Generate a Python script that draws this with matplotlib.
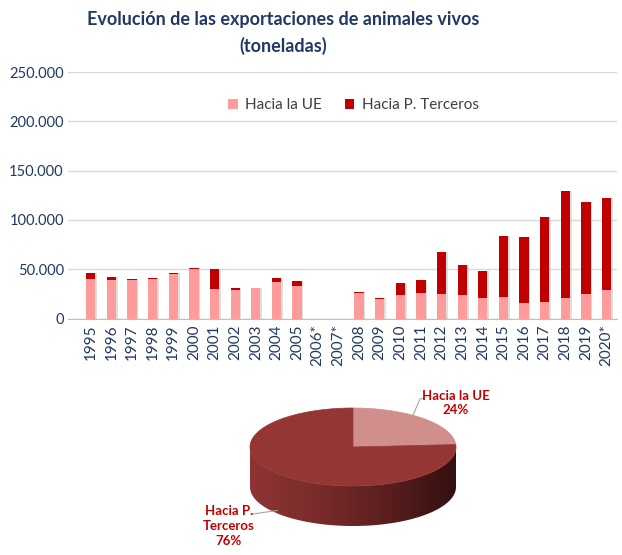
import numpy as np
import matplotlib
matplotlib.use("Agg")
import matplotlib.pyplot as plt
from matplotlib.patches import Polygon
from matplotlib.colors import LinearSegmentedColormap
from matplotlib.ticker import FuncFormatter

plt.rcParams["font.family"] = ["Lato", "DejaVu Sans"]

years = ["1995", "1996", "1997", "1998", "1999", "2000", "2001", "2002", "2003",
         "2004", "2005", "2006*", "2007*", "2008", "2009", "2010", "2011", "2012",
         "2013", "2014", "2015", "2016", "2017", "2018", "2019", "2020*"]
# toneladas (2006* y 2007* sin datos)
hacia_ue = [39600, 39300, 39000, 40000, 44700, 50200, 30400, 29100, 30800,
            36900, 33200, 0, 0, 25600, 19900, 24300, 26300, 25000,
            23500, 20400, 21400, 15300, 16800, 20400, 25000, 28400]
total = [45700, 41600, 40300, 41000, 46400, 51200, 49800, 30800, 31400,
         41000, 37600, 0, 0, 26600, 20900, 36500, 38600, 67300,
         54400, 48600, 83200, 82400, 102900, 129100, 117900, 122200]
hacia_terceros = [t - u for t, u in zip(total, hacia_ue)]

pie_labels = ["Hacia la UE", "Hacia P.\nTerceros"]
pie_values = [24, 76]

navy = "#1F3864"
c_ue = "#FF9B9B"
c_ter = "#C00000"

fig = plt.figure(figsize=(6.22, 5.55), dpi=100)

# --- barras ---
ax = fig.add_axes([68 / 622, 1 - 318.5 / 555, 549 / 622, 246.5 / 555])
x = np.arange(len(years))
w = 0.45
ax.bar(x + 0.08, total, width=w, color="#C8C8C8", alpha=0.6, zorder=1)
ax.bar(x, hacia_ue, width=w, color=c_ue, label="Hacia la UE", zorder=2)
ax.bar(x, hacia_terceros, width=w, bottom=hacia_ue, color=c_ter,
       label="Hacia P. Terceros", zorder=2)

ax.set_ylim(0, 250000)
ax.set_xlim(-1.1, 25.5)
ax.set_yticks(range(0, 250001, 50000))
ax.yaxis.set_major_formatter(FuncFormatter(lambda v, p: f"{int(v):,}".replace(",", ".")))
ax.set_xticks(x)
ax.set_xticklabels(years, rotation=90)
ax.tick_params(axis="both", length=0, colors=navy, labelsize=11)
ax.tick_params(axis="y", pad=3, labelsize=10.5)
ax.tick_params(axis="x", pad=4)
ax.grid(axis="y", color="#D9D9D9", linewidth=1, zorder=0)
ax.set_axisbelow(True)
for s in ["top", "right", "left"]:
    ax.spines[s].set_visible(False)
ax.spines["bottom"].set_color("#BFBFBF")

leg = ax.legend(loc="upper center", bbox_to_anchor=(0.52, 0.95), ncol=2, frameon=False,
                fontsize=11, handlelength=0.6, handleheight=0.6, columnspacing=1.5,
                handletextpad=0.5)
for t in leg.get_texts():
    t.set_color("#404040")

fig.text(283 / 622, 1 - 19 / 555, "Evolución de las exportaciones de animales vivos",
         ha="center", va="center", fontsize=13, fontweight="bold", color=navy)
fig.text(283 / 622, 1 - 46 / 555, "(toneladas)",
         ha="center", va="center", fontsize=13, fontweight="bold", color=navy)

# --- tarta 3D ---
pa = fig.add_axes([0, 0, 1, 1])
pa.set_xlim(0, 622)
pa.set_ylim(555, 0)
pa.axis("off")
pa.patch.set_alpha(0)

cx, cy, rx, ry, depth = 353, 447, 103, 39, 40


def rim(a0, a1, n=200):
    th = np.radians(np.linspace(a0, a1, n))
    return np.column_stack([cx + rx * np.cos(th), cy - ry * np.sin(th)])


# pared lateral frontal con degradado
front = rim(180, 360)
side = Polygon(np.vstack([front, (front + [0, depth])[::-1]]), closed=True,
               facecolor="none", edgecolor="none")
pa.add_patch(side)
side_cmap = LinearSegmentedColormap.from_list(
    "side", ["#8E3434", "#7A2B2B", "#5A1E1E", "#341010"])
grad = np.linspace(0, 1, 256).reshape(1, -1)
im = pa.imshow(grad, cmap=side_cmap, aspect="auto",
               extent=[cx - rx, cx + rx, cy + ry + depth + 2, cy - 2])
im.set_clip_path(side)
pa.set_xlim(0, 622)
pa.set_ylim(555, 0)

fracs = np.array(pie_values) / sum(pie_values)
slice_cols = ["#D08E8C", "#943634"]
start = 90
for frac, col in zip(fracs, slice_cols):
    end = start - frac * 360
    pts = np.vstack([[cx, cy], rim(start, end)])
    pa.add_patch(Polygon(pts, closed=True, facecolor=col, edgecolor=col, linewidth=0.5))
    start = end

lab_col = "#C00000"
pa.plot([413, 420, 424], [415, 399, 398], color="#A6A6A6", lw=0.8)
pa.text(456, 403, f"{pie_labels[0]}\n{pie_values[0]}%", ha="center", va="center",
        fontsize=9.5, fontweight="bold", color=lab_col, linespacing=1.25)
pa.plot([253, 277], [514, 510.5], color="#A6A6A6", lw=0.8)
pa.text(229, 526, f"{pie_labels[1]}\n{pie_values[1]}%", ha="center", va="center",
        fontsize=9.5, fontweight="bold", color=lab_col, linespacing=1.3)

fig.savefig("out.png", dpi=100)
